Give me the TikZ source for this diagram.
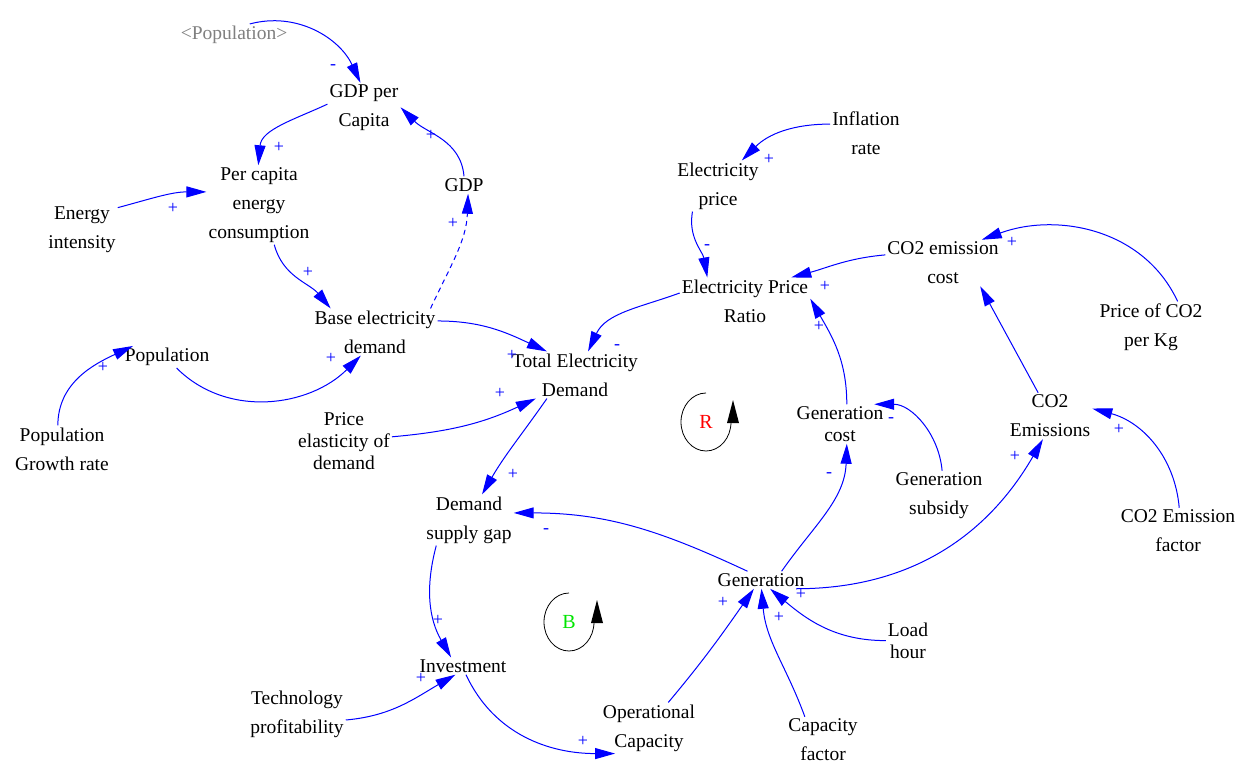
\documentclass[tikz,border=0pt]{standalone}
\usepackage{fontspec}
\setmainfont{Liberation Serif}
\usetikzlibrary{arrows.meta}
\definecolor{cdblue}{RGB}{0,0,255}
\definecolor{cdgray}{RGB}{128,128,128}
\definecolor{cdred}{RGB}{255,0,0}
\definecolor{cdgreen}{RGB}{0,230,0}
\begin{document}
\begin{tikzpicture}[x=1pt,y=1pt,
  var/.style={align=center,inner sep=2pt,font=\fontsize{19.5}{29}\selectfont},
  vartight/.style={var,font=\fontsize{19.5}{22}\selectfont},
  link/.style={draw=cdblue,line width=1pt,-{Triangle[length=20pt,width=11pt]}},
  dlink/.style={link,dash pattern=on 5pt off 4pt},
  sgn/.style={text=cdblue,inner sep=0pt,font=\fontsize{18}{18}\selectfont},
  loopc/.style={draw=black,line width=0.8pt},
  looptxt/.style={inner sep=0pt,font=\fontsize{20}{20}\selectfont}]
\fill[white] (0,0) rectangle (1244,-765);
\useasboundingbox (0,0) rectangle (1244,-765);

% variables
\node[var,text=cdgray] (popg) at (234,-35) {<Population>};
\node[var] (gdppc) at (364,-108) {GDP per\\Capita};
\node[var] (pcec) at (259,-205) {Per capita\\energy\\consumption};
\node[var] (gdp) at (464,-185) {GDP};
\node[var] (ei) at (82,-230) {Energy\\intensity};
\node[var] (bed) at (375,-332) {Base electricity\\demand};
\node[var] (pop) at (167,-357) {Population};
\node[var] (pgr) at (62,-449) {Population\\Growth rate};
\node[vartight] (ped) at (344,-441) {Price\\elasticity of\\demand};
\node[var] (ted) at (575,-375) {Total Electricity\\Demand};
\node[var] (ep) at (718,-186) {Electricity\\price};
\node[var] (ir) at (866,-133) {Inflation\\rate};
\node[var] (epr) at (745,-301) {Electricity Price\\Ratio};
\node[var] (co2c) at (943,-263) {CO2 emission\\cost};
\node[var] (pco2) at (1151,-327) {Price of CO2\\per Kg};
\node[var] (co2e) at (1050,-416) {CO2\\Emissions};
\node[vartight] (gc) at (840,-424) {Generation\\cost};
\node[var] (gsub) at (939,-496) {Generation\\subsidy};
\node[var] (co2f) at (1178,-531) {CO2 Emission\\factor};
\node[var] (dsg) at (469,-520) {Demand\\supply gap};
\node[var] (gen) at (761,-580) {Generation};
\node[vartight] (lh) at (908,-641) {Load\\hour};
\node[var] (inv) at (463,-666) {Investment};
\node[var] (tp) at (297,-714) {Technology\\profitability};
\node[var] (opc) at (649,-728) {Operational\\Capacity};
\node[var] (cf) at (823,-740) {Capacity\\factor};

% links
\draw[link] (popg.35) to[out=15,in=115] (gdppc.98);
\draw[link] (gdppc.174) to[out=205,in=85] (pcec.91);
\draw[link] (gdp.90) to[out=95,in=-45] (gdppc.1);
\draw[dlink] (bed.23) to[out=65,in=-92] (gdp.-65);
\draw[link] (ei.32) to[out=15,in=180] (pcec.166);
\draw[link] (pcec.-69) to[out=-75,in=130] (bed.152);
\draw[link] (bed.10) to[out=0,in=155] (ted.140);
\draw[link] (pop.-49) to[out=-45,in=-135] (bed.-121);
\draw[link] (pgr.100) to[out=90,in=205] (pop.162);
\draw[link] (ped.5) to[out=5,in=205] (ted.211);
\draw[link] (epr.173) to[out=200,in=65] (ted.61);
\draw[link] (ep.-135) to[out=-100,in=100] (epr.148);
\draw[link] (ir.166) to[out=180,in=45] (ep.47);
\draw[link] (co2c.172) to[out=185,in=15] (epr.27);
\draw[link] (pco2.44) to[out=115,in=20] (co2c.31);
\draw[link] (co2e.117) -- (co2c.-32);
\draw[link] (gc.71) to[out=90,in=-60] (epr.2);
\draw[link] (gsub.83) to[out=95,in=0] (gc.30);
\draw[link] (co2f.87) to[out=95,in=-15] (co2e.10);
\draw[link] (gen.23) to[out=55,in=-92] (gc.-71);
\draw[link] (gen.-14) to[out=0,in=-120] (co2e.-107);
\draw[link] (gen.147) to[out=155,in=0] (dsg.9);
\draw[link] (ted.-140) to[out=-125,in=60] (dsg.63);
\draw[link] (dsg.-142) to[out=-105,in=120] (inv.144);
\draw[link] (tp.-7) to[out=5,in=210] (inv.-131);
\draw[link] (inv.-71) to[out=-65,in=180] (opc.-143);
\draw[link] (opc.53) to[out=50,in=-125] (gen.-129);
\draw[link] (cf.128) to[out=110,in=-85] (gen.-87);
\draw[link] (lh.179) to[out=180,in=-40] (gen.-44);

% polarity signs
\node[sgn] (s1) at (333,-67) {-};
\node[sgn] (s2) at (279,-147) {+};
\node[sgn] (s3) at (431,-135) {+};
\node[sgn] (s4) at (453,-223) {+};
\node[sgn] (s5) at (173,-208) {+};
\node[sgn] (s6) at (308,-272) {+};
\node[sgn] (s7) at (512,-355) {+};
\node[sgn] (s8) at (331,-358) {+};
\node[sgn] (s9) at (103,-367) {+};
\node[sgn] (s10) at (500,-393) {+};
\node[sgn] (s11) at (617,-347) {-};
\node[sgn] (s12) at (707,-247) {-};
\node[sgn] (s13) at (769,-159) {+};
\node[sgn] (s14) at (825,-286) {+};
\node[sgn] (s15) at (1012,-242) {+};
\node[sgn] (s17) at (819,-326) {+};
\node[sgn] (s18) at (891,-420) {-};
\node[sgn] (s19) at (1119,-429) {+};
\node[sgn] (s20) at (829,-475) {-};
\node[sgn] (s21) at (1015,-456) {+};
\node[sgn] (s22) at (546,-531) {-};
\node[sgn] (s23) at (513,-474) {+};
\node[sgn] (s24) at (438,-620) {+};
\node[sgn] (s25) at (421,-678) {+};
\node[sgn] (s26) at (583,-741) {+};
\node[sgn] (s27) at (723,-602) {+};
\node[sgn] (s28) at (779,-617) {+};
\node[sgn] (s29) at (801,-594) {+};

% loop markers
\draw[loopc] (706,-393) arc[start angle=90,end angle=360,x radius=25,y radius=29];
\fill[black] (727,-423) -- (733,-400) -- (739,-423) -- cycle;
\node[looptxt,text=cdred] (rloop) at (706,-422) {R};
\draw[loopc] (569,-593) arc[start angle=90,end angle=360,x radius=25,y radius=29];
\fill[black] (591,-623) -- (597,-600) -- (603,-623) -- cycle;
\node[looptxt,text=cdgreen] (bloop) at (569,-622) {B};
\end{tikzpicture}
\end{document}
